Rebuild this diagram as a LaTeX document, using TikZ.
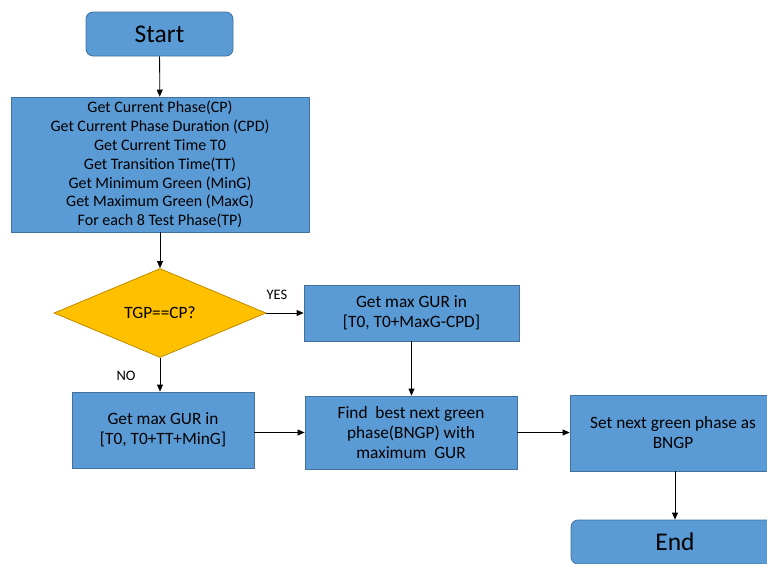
\documentclass[tikz,border=0pt]{standalone}
\usepackage{fontspec}
\setmainfont{Carlito}
\usetikzlibrary{shapes.geometric,arrows.meta}
\definecolor{boxblue}{HTML}{5B9BD5}
\definecolor{boxedge}{HTML}{41719C}
\definecolor{condfill}{HTML}{FFC000}
\definecolor{condedge}{HTML}{BC8C00}
\tikzset{
    procbox/.style={draw=boxedge, fill=boxblue, line width=0.8pt, align=center, inner sep=0pt,
        font=\fontsize{17.3}{20}\selectfont},
    termbox/.style={procbox, rounded corners=7pt, font=\fontsize{25.5}{28}\selectfont},
    condbox/.style={draw=condedge, fill=condfill, line width=0.8pt, diamond, aspect=2.38, inner sep=0pt,
        font=\fontsize{17.3}{20}\selectfont},
    flow/.style={-{Triangle[length=7pt,width=6pt]}, line width=0.8pt},
    tag/.style={font=\fontsize{14.5}{16}\selectfont}
}
\begin{document}
\begin{tikzpicture}[x=1pt,y=-1pt]
        \useasboundingbox (0,0) rectangle (767,563);
        % start and setup
        \node[termbox, minimum width=147, minimum height=44] (start) at (159.5,34) {Start};
        \node[procbox, minimum width=298, minimum height=135, font=\fontsize{16}{18.8}\selectfont] (init) at (160,164.5)
            {Get Current Phase(CP)\\Get Current Phase Duration (CPD)\\Get Current Time T0\\Get Transition Time(TT)\\
             Get Minimum Green (MinG)\\Get Maximum Green (MaxG)\\For each 8 Test Phase(TP)};
        % decision
        \node[condbox, minimum width=212, minimum height=89] (test) at (160,313) {TGP==CP?};
        \node[procbox, minimum width=215, minimum height=56] (yesbox) at (411.5,313) {Get max GUR in\\{}[T0, T0+MaxG-CPD]};
        \node[procbox, minimum width=182, minimum height=76] (nobox) at (163,430) {Get max GUR in\\{}[T0, T0+TT+MinG]};
        % result
        \node[procbox, minimum width=212, minimum height=73] (best) at (411,432.5) {Find\ \ best next green\\phase(BNGP) with\\maximum\ \ GUR};
        \node[procbox, minimum width=206, minimum height=76] (setnext) at (673,433) {Set next green phase as\\BNGP};
        \node[termbox, minimum width=208, minimum height=44] (finish) at (675,542) {End};
        \node[tag] (yes) at (277,295) {YES};
        \node[tag] (no) at (126,376) {NO};
        % arrows
        \draw[flow] (start) -- (init);
        \draw[flow] (init.south -| test.north) -- (test.north);
        \draw[flow] (test.east) -- (yesbox.west);
        \draw[flow] (test.south) -- (test.south |- nobox.north);
        \draw[flow] (yesbox.south) -- (yesbox.south |- best.north);
        \draw[flow] (nobox.east |- best.west) -- (best.west);
        \draw[flow] (best.east) -- (best.east -| setnext.west);
        \draw[flow] (setnext.south -| finish.north) -- (finish.north);
    \end{tikzpicture}
\end{document}
